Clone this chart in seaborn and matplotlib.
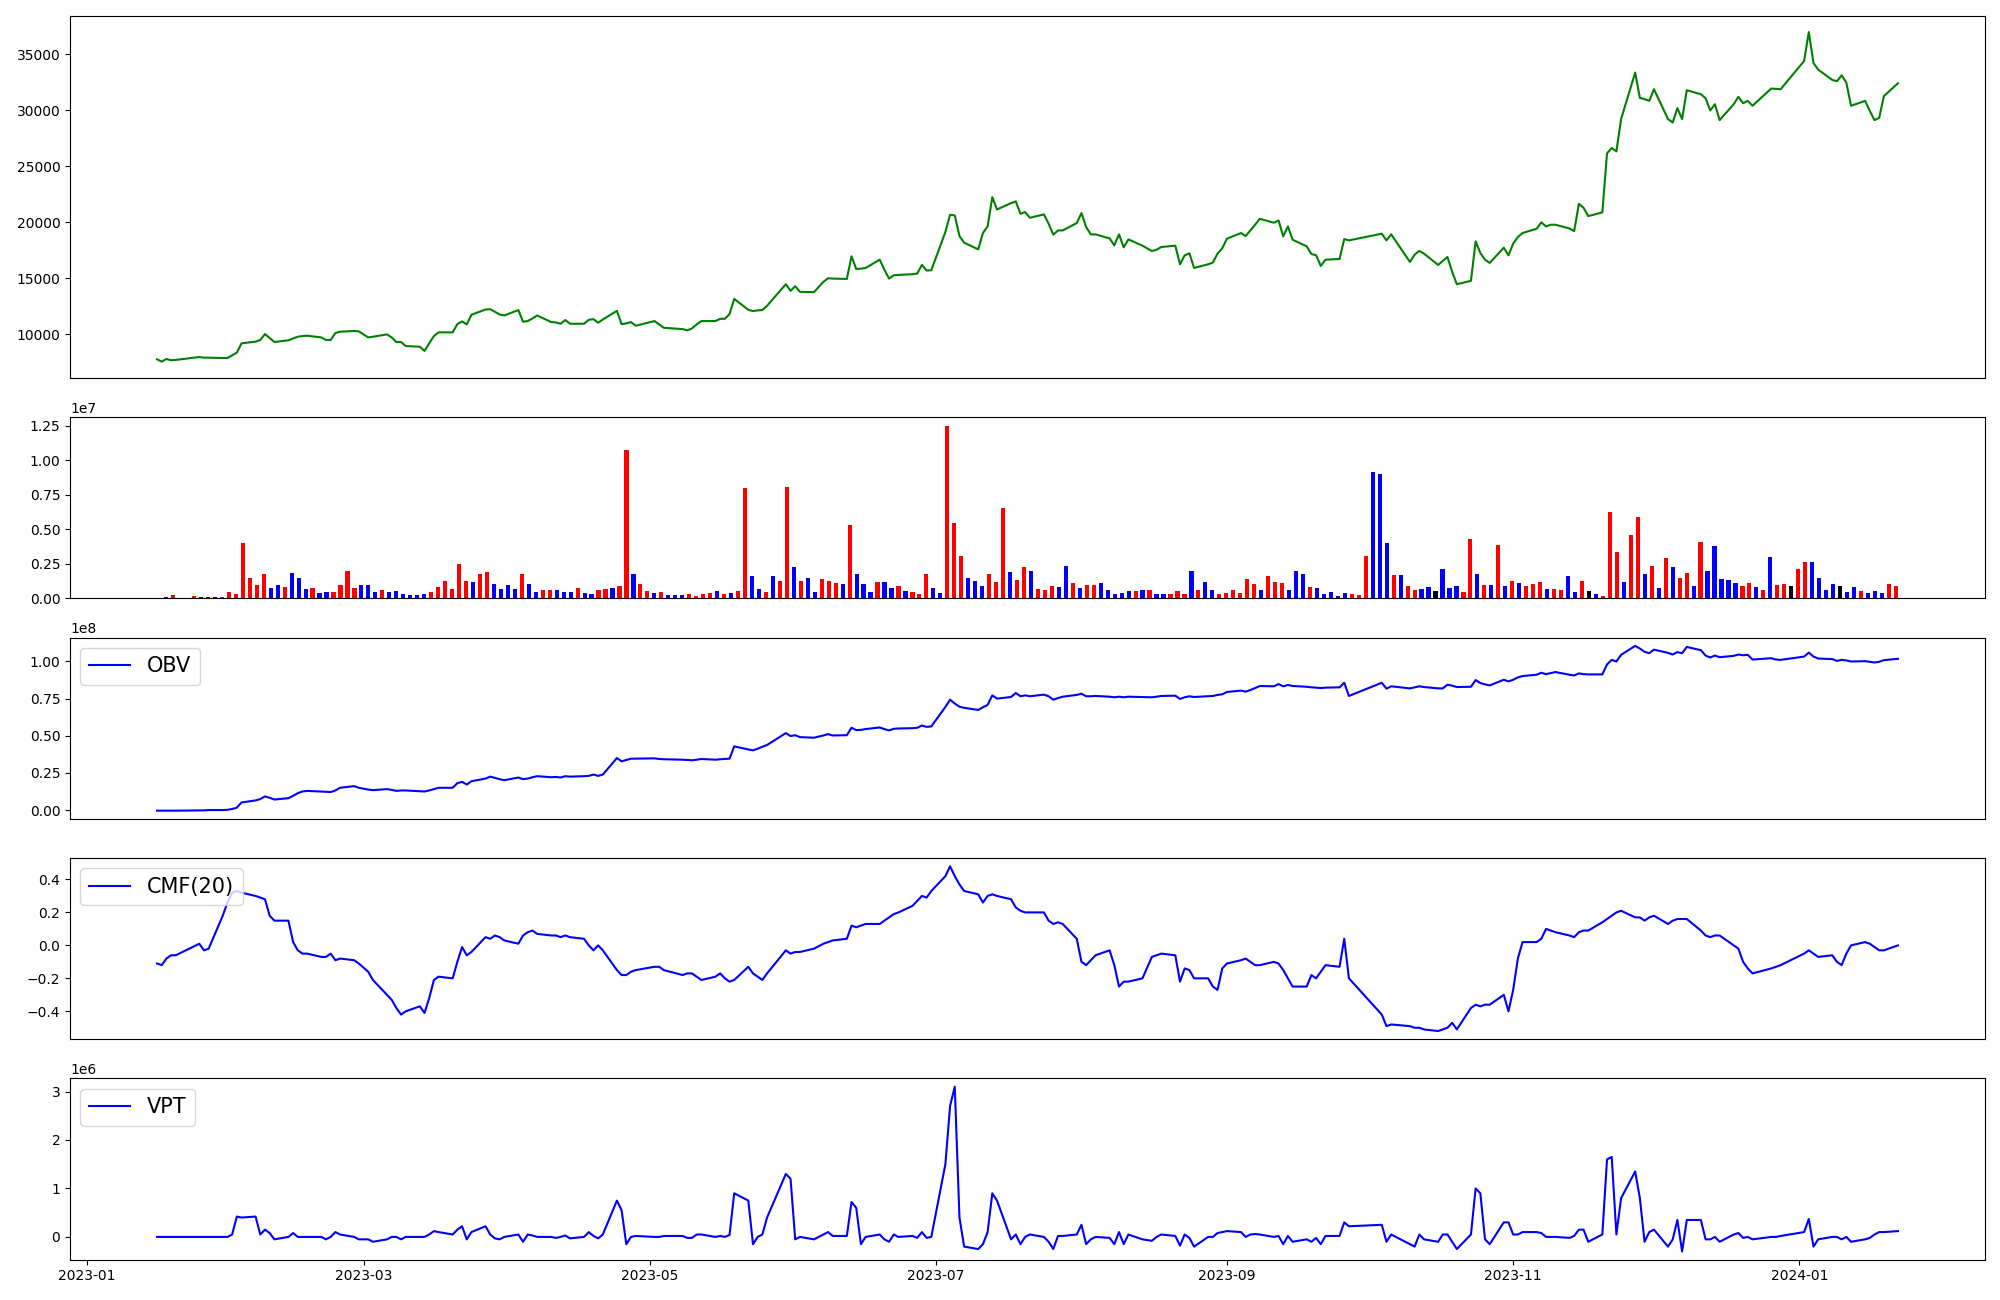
import pandas as pd
import matplotlib.pyplot as plt
import seaborn as sns

# KRX closed days inside the period
holidays = ["2023-01-23", "2023-01-24", "2023-03-01", "2023-05-01", "2023-05-05",
            "2023-05-29", "2023-06-06", "2023-08-15", "2023-09-28", "2023-09-29",
            "2023-10-02", "2023-10-03", "2023-10-09", "2023-12-25", "2023-12-29",
            "2024-01-01"]
dates = [d for d in pd.bdate_range("2023-01-16", "2024-01-22")
         if d.strftime("%Y-%m-%d") not in holidays]

close = [
    7776, 7568, 7805, 7690, 7720, 7980, 7920, 7920, 7890, 7890,
    8130, 8370, 9200, 9350, 9500, 10030, 9670, 9320, 9470, 9640,
    9790, 9850, 9880, 9730, 9500, 9500, 10120, 10240, 10300, 10270,
    9730, 9790, 10000, 9730, 9320, 9320, 8960, 8900, 8520, 9200,
    9850, 10180, 10180, 10920, 11160, 10890, 11750, 12220, 12250, 12020,
    11780, 11690,
    12170, 11130, 11190, 11420, 11690, 11100, 11070, 10950, 11280, 10950,
    10950, 11300, 11360, 11040, 11330, 12100, 10920, 10980, 11100, 10770,
    11190, 10890, 10590, 10470, 10360, 10530, 10890, 11190, 11190, 11390,
    11390, 11810, 13170, 12190, 12080, 12140, 12170, 12550, 14480, 13890,
    14300, 13800, 13770, 14690, 15010, 14980, 14950, 16970, 15840, 15870,
    15930, 16670, 15780, 14980, 15280, 15310, 15370, 15430, 16200, 15700, 15730,
    19140, 20680, 20620, 18780, 18190, 17590, 19050, 19640, 22250, 21150,
    21720, 21870, 20770, 20920, 20410, 20710, 19880, 18900, 19280, 19280, 19940,
    20830, 19580, 18930, 18930, 18570, 17950, 18930, 17770, 18480, 17920,
    17440, 17560, 17800, 17920, 16260, 17060, 17240, 15930, 16260, 16410,
    17210, 17680,
    18540, 19050, 18780, 19280, 19790, 20320, 19970, 20170, 18750, 19640,
    18450, 17860, 17180, 17060, 16110, 16670, 16730, 18510, 18390,
    18990, 18390, 18930, 16470, 17120, 17450, 17210, 16200, 16550, 16910,
    15580, 14480, 14780, 18300, 17270, 16670, 16380, 17740, 17060,
    18100, 18690, 19050, 19430, 20000, 19640, 19790, 19790, 19460, 19220,
    21660, 21300, 20560, 20890, 26160, 26640, 26340, 29220, 33370, 31120,
    31000, 30850,
    31890, 29220, 28920, 30200, 29220, 31800, 31440, 31090, 29990, 30550,
    29130, 30550, 31210, 30640, 30850, 30410, 31950, 31920, 31890,
    34410, 36990, 34230, 33640, 32720, 32600, 33130, 32480, 30410, 30850,
    29960, 29130, 29340, 31270, 32420,
]

volume = [
    0, 95000, 240000, 0, 0, 170000, 95000, 95000, 95000, 95000,
    450000, 310000, 4020000, 1450000, 950000, 1740000, 740000, 950000, 810000, 1880000,
    1520000, 670000, 740000, 380000, 450000, 450000, 950000, 2020000, 740000, 950000,
    950000, 450000, 600000, 450000, 520000, 310000, 240000, 240000, 310000, 450000,
    810000, 1240000, 670000, 2520000, 1240000, 1170000, 1810000, 1950000, 1020000, 670000,
    950000, 670000, 1740000, 1020000, 450000, 600000, 600000, 600000, 450000, 450000,
    740000, 380000, 310000, 600000, 670000, 740000, 880000, 10740000, 1810000, 1020000,
    520000, 380000, 450000, 240000, 240000, 240000, 310000, 170000, 310000, 380000,
    520000, 310000, 380000, 520000, 8020000, 1600000, 670000, 450000, 1600000, 1240000,
    8100000, 2310000, 1240000, 1450000, 450000, 1380000, 1240000, 1100000, 1020000, 5310000,
    1740000, 1020000, 450000, 1170000, 1170000, 740000, 880000, 520000, 450000, 310000,
    1810000, 740000, 380000, 12500000, 5450000, 3100000, 1520000, 1240000, 880000, 1740000,
    1170000, 6520000, 1950000, 1310000, 2310000, 2020000, 670000, 600000, 880000, 810000,
    2380000, 1100000, 740000, 950000, 950000, 1100000, 600000, 310000, 380000, 520000,
    520000, 600000, 600000, 310000, 310000, 310000, 520000, 310000, 2020000, 600000,
    1170000, 600000, 310000, 380000, 600000, 380000, 1380000, 1020000, 600000, 1600000,
    1170000, 1100000, 600000, 2020000, 1740000, 810000, 740000, 310000, 450000, 170000,
    380000, 310000, 240000, 3100000, 9170000, 9020000, 4020000, 1670000, 1670000, 880000,
    600000, 670000, 810000, 520000, 2100000, 740000, 880000, 450000, 4310000, 1740000,
    950000, 950000, 3880000, 880000, 1240000, 1100000, 880000, 1020000, 1170000, 670000,
    670000, 600000, 1600000, 450000, 1240000, 520000, 310000, 170000, 6240000, 3380000,
    1170000, 4600000, 5880000, 1740000, 2380000, 740000, 2950000, 2310000, 1520000, 1880000,
    880000, 4100000, 2020000, 3810000, 1380000, 1310000, 1100000, 880000, 1100000, 810000,
    600000, 3020000, 950000, 1020000, 880000, 2100000, 2670000, 2670000, 1450000, 600000,
    1020000, 880000, 450000, 810000, 520000, 380000, 520000, 380000, 1020000, 880000,
]

# candle direction: 1 = close above open, -1 = below, 0 = unchanged
direction = [
    0, -1, 1, 0, 0, 1, -1, -1, -1, 1,
    1, 1, 1, 1, 1, 1, -1, -1, 1, -1,
    -1, -1, 1, -1, -1, 1, 1, 1, 1, -1,
    -1, -1, 1, -1, -1, -1, -1, -1, -1, 1,
    1, 1, 1, 1, 1, -1, 1, 1, -1, -1,
    -1, -1, 1, -1, -1, 1, 1, -1, -1, -1,
    1, -1, -1, 1, 1, -1, 1, 1, -1, 1,
    1, -1, 1, -1, -1, -1, 1, 1, 1, 1,
    -1, 1, -1, 1, 1, -1, -1, 1, -1, 1,
    1, -1, 1, -1, -1, 1, 1, 1, -1, 1,
    -1, -1, -1, 1, -1, -1, 1, -1, 1, 1,
    1, -1, -1, 1, 1, 1, -1, -1, -1, 1,
    1, 1, -1, 1, 1, -1, 1, 1, 1, -1,
    -1, 1, -1, 1, 1, -1, -1, -1, -1, -1,
    1, -1, 1, -1, -1, 1, 1, 1, -1, 1,
    -1, -1, 1, 1, 1, 1, 1, 1, -1, 1,
    1, 1, -1, -1, -1, 1, -1, -1, -1, -1,
    -1, 1, 1, 1, -1, -1, -1, 1, -1, 1,
    1, -1, -1, 0, -1, -1, -1, 1, 1, -1,
    1, -1, 1, -1, 1, -1, 1, 1, 1, -1,
    1, 1, -1, -1, 1, 0, -1, 1, 1, 1,
    -1, 1, 1, -1, 1, -1, 1, -1, 1, 1,
    -1, 1, -1, -1, -1, -1, -1, 1, 1, -1,
    1, -1, 1, 1, 0, 1, 1, -1, -1, -1,
    -1, 0, -1, -1, 1, -1, -1, -1, 1, 1,
]

# OBV in millions
obv = [
    -0.4, -0.4, -0.4, -0.4, -0.4, -0.2, -0.2, 0.0, 0.0, 0.2,
    0.7, 1.6, 5.1, 6.5, 7.4, 9.2, 8.3, 7.1, 8.0, 9.6,
    11.4, 12.5, 12.9, 12.5, 12.3, 12.1, 13.2, 15.0, 16.1, 15.0,
    13.8, 13.4, 14.1, 13.6, 12.9, 13.2, 13.2, 12.7, 12.5, 13.2,
    14.1, 15.0, 15.0, 18.1, 19.0, 17.2, 19.4, 21.2, 22.5, 21.7,
    20.8, 20.1,
    21.9, 20.8, 21.2, 22.1, 22.8, 22.1, 22.3, 21.9, 22.8, 22.5,
    22.8, 23.0, 23.9, 23.0, 23.9, 35.0, 32.8, 33.7, 34.6, 34.6,
    34.8, 34.4, 34.2, 33.9, 33.7, 33.5, 33.9, 34.4, 33.9, 34.2,
    34.4, 34.6, 42.9, 40.8, 40.2, 41.3, 42.6, 43.8, 51.8, 49.8,
    50.4, 49.1, 48.7, 50.2, 51.1, 50.2, 50.4, 55.4, 53.8, 54.0,
    54.5, 55.6, 54.5, 53.6, 54.7, 54.9, 55.1, 55.4, 56.9, 56.0, 56.3,
    69.4, 74.3, 71.7, 69.6, 68.8, 67.4, 69.2, 70.8, 77.2, 75.0,
    76.1, 78.8, 76.6, 77.2, 76.6, 77.7, 76.6, 74.3, 75.4, 76.3, 77.5,
    78.3, 76.6, 76.6, 76.8, 76.3, 75.9, 76.3, 75.9, 76.3, 76.1,
    75.9, 76.3, 76.8, 77.0, 74.8, 75.9, 76.6, 76.1, 76.6, 76.8,
    77.5, 77.9,
    79.5, 80.4, 79.7, 80.8, 82.1, 83.5, 83.3, 84.8, 83.3, 84.2,
    83.5, 83.0, 82.6, 82.4, 82.1, 82.4, 82.6, 85.7, 76.8,
    85.7, 81.7, 83.3, 81.9, 82.6, 83.3, 82.8, 81.9, 81.9, 84.4,
    83.7, 82.8, 83.0, 87.5, 85.5, 84.6, 83.9, 87.7, 86.6,
    87.7, 89.3, 90.2, 91.1, 92.4, 91.5, 92.2, 92.9, 91.1, 90.6,
    92.0, 91.5, 91.3, 91.3, 98.0, 101.1, 100.0, 104.5, 110.5, 108.7,
    106.5, 105.6,
    108.0, 105.8, 104.7, 106.3, 105.6, 109.8, 107.6, 104.0, 102.7, 104.0,
    102.9, 103.8, 104.7, 104.2, 104.5, 101.3, 102.2, 101.3, 101.1,
    103.3, 106.0, 103.3, 102.0, 101.6, 100.4, 101.1, 100.7, 100.0, 100.2,
    99.8, 99.3, 99.8, 100.9, 101.8,
]

cmf = [
    -0.11, -0.12, -0.08, -0.06, -0.06, 0.01, -0.03, -0.02, 0.18, 0.26,
    0.32, 0.33, 0.32, 0.30, 0.29, 0.28, 0.18, 0.15, 0.15, 0.02,
    -0.03, -0.05, -0.05, -0.07, -0.07, -0.05, -0.09, -0.08, -0.09, -0.11,
    -0.16, -0.21, -0.30, -0.33, -0.38, -0.42, -0.40, -0.37, -0.41, -0.32,
    -0.21, -0.19, -0.20, -0.10, -0.01, -0.06, -0.04, 0.05, 0.04, 0.06,
    0.05, 0.03,
    0.01, 0.06, 0.08, 0.09, 0.07, 0.06, 0.06, 0.05, 0.06, 0.05,
    0.04, 0.00, -0.03, 0.00, -0.03, -0.15, -0.18, -0.18, -0.16, -0.15,
    -0.13, -0.13, -0.15, -0.18, -0.17, -0.17, -0.19, -0.21, -0.19, -0.17,
    -0.20, -0.22, -0.21, -0.13, -0.17, -0.19, -0.21, -0.17, -0.03, -0.05,
    -0.04, -0.04, -0.02, 0.01, 0.02, 0.03, 0.04, 0.12, 0.11, 0.12,
    0.13, 0.13, 0.15, 0.17, 0.19, 0.20, 0.24, 0.27, 0.30, 0.29, 0.33,
    0.42, 0.48, 0.42, 0.37, 0.33, 0.31, 0.26, 0.30, 0.31, 0.30,
    0.28, 0.23, 0.21, 0.20, 0.20, 0.20, 0.15, 0.13, 0.14, 0.13, 0.04,
    -0.10, -0.12, -0.09, -0.06, -0.03, -0.12, -0.25, -0.22, -0.22, -0.20,
    -0.07, -0.06, -0.05, -0.06, -0.22, -0.14, -0.15, -0.20, -0.20, -0.25,
    -0.27, -0.14,
    -0.11, -0.09, -0.08, -0.10, -0.12, -0.12, -0.10, -0.11, -0.15, -0.20,
    -0.25, -0.25, -0.18, -0.20, -0.16, -0.12, -0.13, 0.04, -0.20,
    -0.42, -0.49, -0.48, -0.49, -0.50, -0.50, -0.51, -0.52, -0.51, -0.50,
    -0.47, -0.51, -0.38, -0.36, -0.37, -0.36, -0.36, -0.30, -0.40,
    -0.27, -0.08, 0.02, 0.02, 0.04, 0.10, 0.09, 0.08, 0.06, 0.05,
    0.08, 0.09, 0.09, 0.14, 0.16, 0.18, 0.20, 0.21, 0.17, 0.17,
    0.15, 0.17,
    0.18, 0.13, 0.15, 0.16, 0.16, 0.16, 0.09, 0.06, 0.05, 0.06,
    0.06, 0.00, -0.02, -0.10, -0.14, -0.17, -0.14, -0.13, -0.12,
    -0.05, -0.03, -0.05, -0.07, -0.06, -0.10, -0.12, -0.05, 0.00, 0.02,
    0.01, -0.01, -0.03, -0.03, 0.00,
]

# VPT in millions
vpt = [
    0.0, 0.0, 0.0, 0.0, 0.0, 0.0, 0.0, 0.0, 0.0, 0.0,
    0.05, 0.42, 0.40, 0.42, 0.05, 0.15, 0.08, -0.05, 0.0, 0.08,
    0.0, 0.0, 0.0, 0.0, -0.05, 0.0, 0.1, 0.05, 0.0, -0.05,
    -0.05, -0.1, -0.05, 0.0, 0.0, -0.05, 0.0, 0.0, 0.0, 0.05,
    0.12, 0.1, 0.05, 0.15, 0.22, -0.05, 0.1, 0.22, 0.05, -0.03,
    -0.05, 0.0,
    0.05, -0.1, 0.05, 0.03, 0.0, 0.0, -0.02, 0.0, 0.03, -0.03,
    0.0, 0.1, 0.02, -0.03, 0.05, 0.75, 0.55, -0.15, 0.0, 0.02,
    0.0, 0.0, 0.02, 0.02, -0.02, -0.02, 0.05, 0.05, 0.0, 0.02,
    0.0, 0.04, 0.9, 0.75, -0.15, 0.0, 0.05, 0.4, 1.3, 1.2,
    -0.05, 0.0, -0.05, 0.05, 0.1, 0.02, 0.02, 0.72, 0.6, -0.15,
    0.0, 0.05, -0.05, -0.1, 0.05, 0.0, 0.02, -0.02, 0.1, -0.02, 0.0,
    1.5, 2.7, 3.1, 0.4, -0.2, -0.25, -0.15, 0.1, 0.9, 0.75,
    -0.05, 0.05, -0.15, 0.0, 0.05, 0.0, -0.1, -0.25, 0.02, 0.02, 0.05,
    0.25, -0.15, -0.05, 0.0, -0.02, -0.15, 0.1, -0.15, 0.05, -0.05,
    -0.08, 0.0, 0.05, 0.02, -0.18, 0.05, -0.02, -0.2, 0.0, 0.0,
    0.08, 0.1,
    0.12, 0.1, 0.0, 0.05, 0.06, 0.05, 0.0, 0.02, -0.15, 0.02,
    -0.1, -0.05, -0.1, -0.02, -0.15, 0.02, 0.02, 0.3, 0.22,
    0.25, -0.1, 0.05, -0.15, -0.2, 0.05, -0.05, -0.1, 0.05, 0.05,
    -0.1, -0.25, 0.05, 1.0, 0.9, -0.05, -0.15, 0.3, 0.3,
    0.05, 0.05, 0.1, 0.1, 0.08, 0.0, 0.0, 0.0, -0.02, 0.02,
    0.15, 0.15, -0.1, 0.05, 1.6, 1.65, 0.05, 0.8, 1.35, 0.8,
    -0.1, 0.1,
    0.15, -0.2, -0.05, 0.35, -0.3, 0.35, 0.35, -0.05, -0.05, 0.0,
    -0.1, 0.05, 0.08, -0.02, 0.0, -0.05, 0.0, 0.0, 0.02,
    0.1, 0.37, -0.2, -0.05, 0.0, 0.0, -0.05, 0.0, -0.1, -0.05,
    -0.02, 0.05, 0.1, 0.1, 0.12,
]

bar_colors = {1: "red", -1: "blue", 0: "black"}

fig, axes = plt.subplots(5, 1, figsize=(20, 13), gridspec_kw={"height_ratios": [2, 1, 1, 1, 1]})
fig.subplots_adjust(left=0.035, right=0.9925, top=0.988, bottom=0.031, hspace=0.18)

# price
sns.lineplot(x=dates, y=close, color="green", ax=axes[0])

# volume, bars on a plain index axis
axes[1].bar(range(len(volume)), volume, width=0.6, color=[bar_colors[d] for d in direction])

# indicators
sns.lineplot(x=dates, y=[v * 1e6 for v in obv], color="blue", label="OBV", ax=axes[2])
sns.lineplot(x=dates, y=cmf, color="blue", label="CMF(20)", ax=axes[3])
sns.lineplot(x=dates, y=[v * 1e6 for v in vpt], color="blue", label="VPT", ax=axes[4])

for ax in axes[2:]:
    ax.legend(loc="upper left", fontsize=15)

for ax in axes[:4]:
    ax.set_xticks([])

plt.savefig("out.png")
